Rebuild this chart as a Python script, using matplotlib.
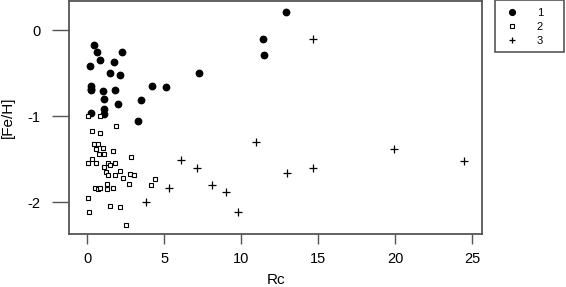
import matplotlib
matplotlib.use("Agg")
import matplotlib.pyplot as plt
from matplotlib.patches import Rectangle

plt.rcParams['font.family'] = ['Liberation Sans', 'DejaVu Sans']
plt.rcParams['axes.unicode_minus'] = False

# group 1 (filled circles)
rc1 = [0.47, 0.63, 0.82, 2.29, 1.78, 0.21, 1.47, 2.13, 7.26, 4.24, 5.15,
       0.23, 0.23, 0.23, 1.03, 1.83, 1.12, 3.53, 2.04, 1.12, 1.12, 0.26,
       3.28, 11.40, 11.49, 12.94]
feh1 = [-0.17, -0.25, -0.35, -0.25, -0.37, -0.42, -0.50, -0.52, -0.50, -0.645, -0.66,
        -0.65, -0.68, -0.70, -0.71, -0.70, -0.80, -0.81, -0.86, -0.92, -0.98, -0.97,
        -1.06, -0.10, -0.29, 0.21]

# group 2 (open squares)
rc2 = [0.07, 0.82, 1.87, 0.30, 0.87, 0.47, 0.70, 1.01, 0.61, 1.12, 0.75,
       1.71, 2.88, 0.33, 0.09, 0.56, 1.36, 1.83, 1.08, 1.47, 1.24, 1.33,
       2.15, 1.83, 2.81, 3.07, 2.34, 4.40, 2.74, 4.17, 1.31, 1.31, 1.66,
       0.54, 0.73, 0.82, 0.07, 0.16, 1.47, 2.15, 2.53]
feh2 = [-1.00, -1.00, -1.12, -1.17, -1.20, -1.32, -1.32, -1.37, -1.38, -1.44, -1.44,
        -1.40, -1.48, -1.50, -1.55, -1.54, -1.54, -1.54, -1.59, -1.57, -1.65, -1.68,
        -1.64, -1.68, -1.67, -1.68, -1.72, -1.73, -1.79, -1.80, -1.79, -1.85, -1.83,
        -1.83, -1.85, -1.83, -1.95, -2.12, -2.05, -2.06, -2.26]

# group 3 (plus)
rc3 = [14.68, 10.98, 19.94, 24.46, 6.11, 7.12, 14.68, 12.99, 5.34, 8.12, 9.04, 3.82, 9.78]
feh3 = [-0.10, -1.30, -1.38, -1.52, -1.51, -1.60, -1.60, -1.66, -1.83, -1.80, -1.88, -2.00, -2.11]

group_labels = ['1', '2', '3']
xticks = [0, 5, 10, 15, 20, 25]
yticks = [0, -1, -2]

W, H = 566, 287
fig = plt.figure(figsize=(W / 100, H / 100), dpi=100)
ax = fig.add_axes([69.3 / W, 1 - 234 / H, (482.3 - 69.3) / W, (234 - 1) / H])

ax.plot(rc1, feh1, 'o', color='black', markersize=4.6, linestyle='none', label=group_labels[0])
ax.plot(rc2, feh2, 's', markerfacecolor='white', markeredgecolor='black', markersize=3.5,
        markeredgewidth=0.8, linestyle='none', label=group_labels[1])
ax.plot(rc3, feh3, '+', color='black', markersize=5.5, markeredgewidth=0.9, linestyle='none',
        label=group_labels[2])

ax.set_xlim(-1.15, 25.65)
ax.set_ylim(-2.37, 0.337)
ax.set_xticks(xticks)
ax.set_yticks(yticks)
ax.set_yticklabels([str(t) for t in yticks])

for s in ax.spines.values():
    s.set_color('#555555')
    s.set_linewidth(1.3)
ax.tick_params(axis='x', length=7, width=1.0, color='#555555', pad=6, labelsize=10.5)
ax.tick_params(axis='y', length=12, width=1.0, color='#555555', pad=9, labelsize=10.5)

ax.set_xlabel('Rc', fontsize=11, labelpad=5)
ax.set_ylabel('[Fe/H]', fontsize=11, labelpad=9)

# legend box outside the plot
fig.patches.append(Rectangle((495 / W, 1 - 51.7 / H), (564 - 495) / W, 51.7 / H,
                             transform=fig.transFigure, fill=False,
                             edgecolor='#555555', linewidth=1.2))
fig.legend(loc='upper left', bbox_to_anchor=(500 / W, 1 - 5 / H), frameon=False,
           fontsize=8, handlelength=1.6, handletextpad=1.4, labelspacing=0.35,
           borderpad=0.3, borderaxespad=0, markerscale=0.9)

fig.savefig('out.png', dpi=100)
